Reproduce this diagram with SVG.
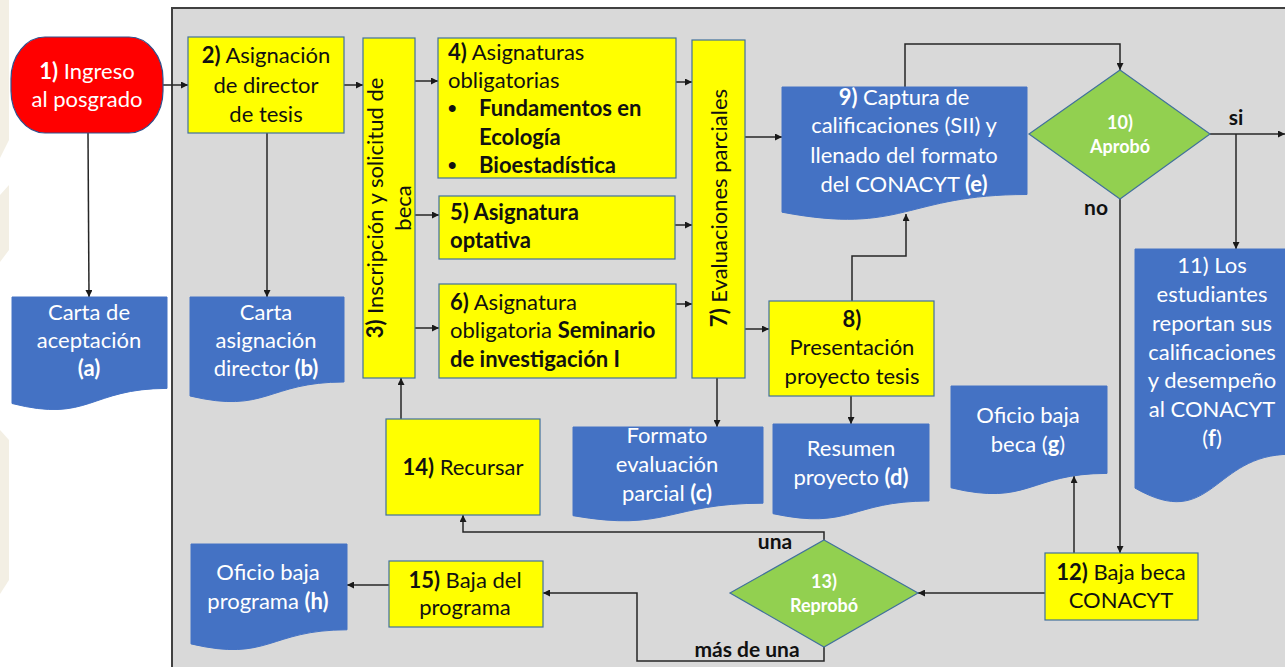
<svg xmlns="http://www.w3.org/2000/svg" width="1285" height="667" viewBox="0 0 1285 667">
<defs>
<marker id="ah" viewBox="0 0 10 10" refX="10" refY="5" markerWidth="8" markerHeight="7" markerUnits="userSpaceOnUse" orient="auto"><path d="M0,0 L10,5 L0,10 Z" fill="#1a1a1a"/></marker>
<style>
.t{font-family:Lato,"Liberation Sans",sans-serif;font-size:22px;}
.c{text-anchor:middle;}
.w{fill:#ffffff;}
.k{fill:#111111;}
.b{font-weight:bold;}
.bul{font-family:"Liberation Sans",sans-serif;font-size:24px;font-weight:bold;fill:#111;}
.yl{fill:#ffff00;stroke:#41719c;stroke-width:1.2;}
.doc{fill:#4472c4;stroke:#4472c4;stroke-width:1;}
.dia{fill:#92d050;stroke:#41719c;stroke-width:1.2;}
.lbl{font-family:Lato,"Liberation Sans",sans-serif;font-size:21px;font-weight:bold;fill:#111;}
.dt{font-family:Lato,"Liberation Sans",sans-serif;font-size:18px;font-weight:bold;fill:#fff;text-anchor:middle;}
.ln{fill:none;stroke:#262626;stroke-width:1.5;}
</style>
</defs>
<rect x="0" y="0" width="1285" height="667" fill="#ffffff"/>
<g id="watermark" fill="#f3efe4">
<polygon points="0,0 9,0 9,140 0,158"/>
<polygon points="0,195 9,185 9,250 0,262"/>
<polygon points="0,430 9,440 9,580 0,594"/>
</g>
<rect id="panel" x="172" y="8" width="1120" height="670" fill="#d9d9d9" stroke="#404040" stroke-width="2"/>

<g id="connectors">
<line class="ln" x1="163" y1="85" x2="188" y2="85" marker-end="url(#ah)"/>
<line class="ln" x1="344" y1="85" x2="363" y2="85" marker-end="url(#ah)"/>
<line class="ln" x1="88" y1="133" x2="89" y2="297" marker-end="url(#ah)"/>
<line class="ln" x1="267" y1="133" x2="267" y2="297" marker-end="url(#ah)"/>
<line class="ln" x1="415" y1="81" x2="438" y2="81" marker-end="url(#ah)"/>
<line class="ln" x1="415" y1="215" x2="439" y2="215" marker-end="url(#ah)"/>
<line class="ln" x1="415" y1="328" x2="439" y2="328" marker-end="url(#ah)"/>
<line class="ln" x1="676" y1="82" x2="692" y2="82" marker-end="url(#ah)"/>
<line class="ln" x1="675" y1="225" x2="692" y2="225" marker-end="url(#ah)"/>
<line class="ln" x1="676" y1="304" x2="692" y2="304" marker-end="url(#ah)"/>
<line class="ln" x1="745" y1="137" x2="782" y2="137" marker-end="url(#ah)"/>
<line class="ln" x1="745" y1="329" x2="769" y2="329" marker-end="url(#ah)"/>
<line class="ln" x1="717" y1="378" x2="717" y2="427" marker-end="url(#ah)"/>
<line class="ln" x1="851" y1="396" x2="851" y2="424" marker-end="url(#ah)"/>
<polyline class="ln" points="852,301 852,256 906,256 906,214" marker-end="url(#ah)"/>
<polyline class="ln" points="905,87 905,44 1120,44 1120,70" marker-end="url(#ah)"/>
<line class="ln" x1="1210" y1="134" x2="1285" y2="134" marker-end="url(#ah)"/>
<line class="ln" x1="1236" y1="134" x2="1236" y2="249" marker-end="url(#ah)"/>
<line class="ln" x1="1120" y1="199" x2="1120" y2="553" marker-end="url(#ah)"/>
<line class="ln" x1="1074" y1="553" x2="1074" y2="476" marker-end="url(#ah)"/>
<line class="ln" x1="1045" y1="593" x2="918" y2="593" marker-end="url(#ah)"/>
<polyline class="ln" points="824,540 824,532 463,532 463,515" marker-end="url(#ah)"/>
<polyline class="ln" points="824,647 824,661 637,661 637,593 543,593" marker-end="url(#ah)"/>
<line class="ln" x1="401" y1="419" x2="401" y2="378" marker-end="url(#ah)"/>
<line class="ln" x1="389" y1="585" x2="347" y2="585" marker-end="url(#ah)"/>
</g>

<g id="n1">
<rect x="11" y="37" width="152" height="96" rx="34" ry="42" fill="#ff0000" stroke="#2f528f" stroke-width="1.2"/>
<text class="t c w" x="87" y="79"><tspan class="b">1)</tspan> Ingreso</text>
<text class="t c w" x="87" y="107">al posgrado</text>
</g>
<g id="da">
<path class="doc" d="M12,297 H167 V388.4 C89.5,388.4 89.5,423.2 12,403.5 Z"/>
<text class="t c w" x="89" y="320">Carta de</text>
<text class="t c w" x="89" y="348">aceptación</text>
<text class="t c w b" x="89" y="376">(a)</text>
</g>
<g id="n2">
<rect class="yl" x="188" y="37" width="156" height="96"/>
<text class="t c k" x="266" y="63"><tspan class="b">2)</tspan> Asignación</text>
<text class="t c k" x="266" y="93">de director</text>
<text class="t c k" x="266" y="122">de tesis</text>
</g>
<g id="db">
<path class="doc" d="M190,297 H344 V382 C267,382 267,414.3 190,396 Z"/>
<text class="t c w" x="266" y="320">Carta</text>
<text class="t c w" x="266" y="348">asignación</text>
<text class="t c w" x="266" y="376">director <tspan class="b">(b)</tspan></text>
</g>
<g id="n3">
<rect class="yl" x="363" y="38" width="52" height="340"/>
<g transform="translate(363,208) rotate(-90)">
<text class="t c k" x="0" y="20"><tspan class="b">3)</tspan> Inscripción y solicitud de</text>
<text class="t c k" x="0" y="48">beca</text>
</g>
</g>
<g id="n4">
<rect class="yl" x="438" y="38" width="238" height="140"/>
<text class="t k" x="448" y="60"><tspan class="b">4)</tspan> Asignaturas</text>
<text class="t k" x="448" y="88">obligatorias</text>
<text class="bul" x="448" y="116">•</text>
<text class="t k b" x="479" y="116">Fundamentos en</text>
<text class="t k b" x="479" y="145">Ecología</text>
<text class="bul" x="448" y="173">•</text>
<text class="t k b" x="479" y="173">Bioestadística</text>
</g>
<g id="n5">
<rect class="yl" x="439" y="196" width="236" height="63"/>
<text class="t k b" x="450" y="220">5) Asignatura</text>
<text class="t k b" x="450" y="248">optativa</text>
</g>
<g id="n6">
<rect class="yl" x="439" y="284" width="237" height="94"/>
<text class="t k" x="450" y="310"><tspan class="b">6)</tspan> Asignatura</text>
<text class="t k" x="450" y="338">obligatoria <tspan class="b">Seminario</tspan></text>
<text class="t k b" x="450" y="367">de investigación I</text>
</g>
<g id="n7">
<rect class="yl" x="692" y="40" width="53" height="338"/>
<g transform="translate(727,208) rotate(-90)">
<text class="t c k" x="0" y="0"><tspan class="b">7)</tspan> Evaluaciones parciales</text>
</g>
</g>
<g id="n8">
<rect class="yl" x="769" y="301" width="165" height="95"/>
<text class="t c k b" x="852" y="327">8)</text>
<text class="t c k" x="852" y="355">Presentación</text>
<text class="t c k" x="852" y="384">proyecto tesis</text>
</g>
<g id="dc">
<path class="doc" d="M573,427 H763 V503.2 C668,503.2 668,532.2 573,515.7 Z"/>
<text class="t c w" x="667" y="443">Formato</text>
<text class="t c w" x="667" y="472">evaluación</text>
<text class="t c w" x="667" y="501">parcial <tspan class="b">(c)</tspan></text>
</g>
<g id="dd">
<path class="doc" d="M773,424 H929 V501 C851,501 851,530.3 773,513.7 Z"/>
<text class="t c w" x="851" y="456">Resumen</text>
<text class="t c w" x="851" y="485">proyecto <tspan class="b">(d)</tspan></text>
</g>
<g id="n9">
<path class="doc" d="M782,87 H1027 V194.5 C904.5,194.5 904.5,235.3 782,212.2 Z"/>
<text class="t c w" x="904" y="105"><tspan class="b">9)</tspan> Captura de</text>
<text class="t c w" x="904" y="133">calificaciones (SII) y</text>
<text class="t c w" x="904" y="163">llenado del formato</text>
<text class="t c w" x="904" y="192">del CONACYT <tspan class="b">(e)</tspan></text>
</g>
<g id="n10">
<polygon class="dia" points="1120,70 1210,134 1120,199 1029,134"/>
<text class="dt" x="1120" y="129">10)</text>
<text class="dt" x="1120" y="153">Aprobó</text>
</g>
<text class="lbl" x="1236" y="125" text-anchor="middle">si</text>
<text class="lbl" x="1096" y="215" text-anchor="middle">no</text>
<g id="n11">
<path class="doc" d="M1135,249 H1290 V454.3 C1212.5,454.3 1212.5,532.4 1135,488.1 Z"/>
<text class="t c w" x="1212" y="273">11) Los</text>
<text class="t c w" x="1212" y="302">estudiantes</text>
<text class="t c w" x="1212" y="331">reportan sus</text>
<text class="t c w" x="1212" y="360">calificaciones</text>
<text class="t c w" x="1212" y="388">y desempeño</text>
<text class="t c w" x="1212" y="417">al CONACYT</text>
<text class="t c w" x="1212" y="446">(<tspan class="b">f</tspan>)</text>
</g>
<g id="dg">
<path class="doc" d="M951,386 H1107 V473.4 C1029,473.4 1029,506.7 951,487.8 Z"/>
<text class="t c w" x="1028" y="423">Oficio baja</text>
<text class="t c w" x="1028" y="452">beca (<tspan class="b">g</tspan>)</text>
</g>
<g id="n12">
<rect class="yl" x="1045" y="553" width="153" height="67"/>
<text class="t c k" x="1121" y="580"><tspan class="b">12)</tspan> Baja beca</text>
<text class="t c k" x="1121" y="608">CONACYT</text>
</g>
<g id="n13">
<polygon class="dia" points="824,540 918,593 824,647 730,593"/>
<text class="dt" x="824" y="588">13)</text>
<text class="dt" x="824" y="612">Reprobó</text>
</g>
<text class="lbl" x="775" y="549" text-anchor="middle">una</text>
<text class="lbl" x="747" y="657" text-anchor="middle">más de una</text>
<g id="n14">
<rect class="yl" x="386" y="419" width="154" height="96"/>
<text class="t c k" x="463" y="475"><tspan class="b">14)</tspan> Recursar</text>
</g>
<g id="n15">
<rect class="yl" x="389" y="561" width="154" height="66"/>
<text class="t c k" x="465" y="588"><tspan class="b">15)</tspan> Baja del</text>
<text class="t c k" x="465" y="615">programa</text>
</g>
<g id="dh">
<path class="doc" d="M191,544 H347 V629.8 C269,629.8 269,662.4 191,643.9 Z"/>
<text class="t c w" x="268" y="580">Oficio baja</text>
<text class="t c w" x="268" y="609">programa <tspan class="b">(h)</tspan></text>
</g>
</svg>
